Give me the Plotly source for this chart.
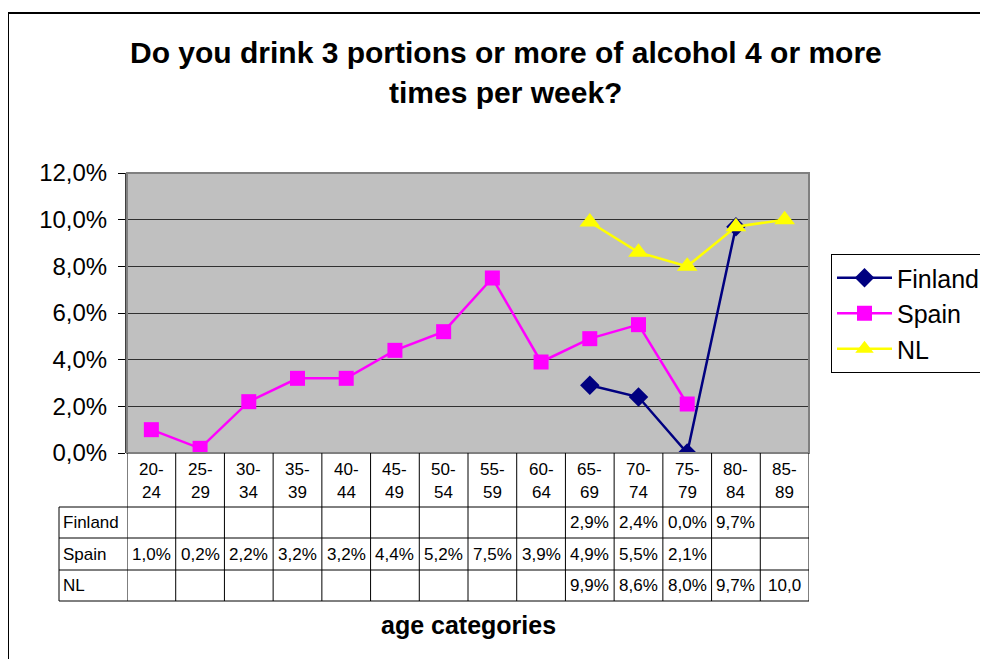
import plotly.graph_objects as go

# age categories and the three series (percent)
categories = ["20-24", "25-29", "30-34", "35-39", "40-44", "45-49", "50-54",
              "55-59", "60-64", "65-69", "70-74", "75-79", "80-84", "85-89"]
finland = [None, None, None, None, None, None, None, None, None, 2.9, 2.4, 0.0, 9.7, None]
spain = [1.0, 0.2, 2.2, 3.2, 3.2, 4.4, 5.2, 7.5, 3.9, 4.9, 5.5, 2.1, None, None]
nl = [None, None, None, None, None, None, None, None, None, 9.9, 8.6, 8.0, 9.7, 10.0]
y_ticks = [0, 2, 4, 6, 8, 10, 12]

FONT = "Arial, Liberation Sans, sans-serif"
OFF = 8                      # page body margin
W, H = 988 - OFF, 659 - OFF
L, R, T, B = 127, 809, 173, 453   # plot area in window pixels


def py(p):
    # window pixel row -> paper y
    return (B - p) / (B - T)


def px(p):
    # window pixel column -> paper x
    return (p - L) / (R - L)


def pct(v):
    return ("%.1f%%" % v).replace(".", ",")


def cell(v):
    if v is None:
        return ""
    s = pct(v)
    return s[:4] if len(s) > 4 else s  # cell too narrow, excel clips it


series = [
    ("Finland", finland, "#000080", "diamond", 15),
    ("Spain", spain, "#FF00FF", "square", 15),
    ("NL", nl, "#FFFF00", "triangle-up", 18),
]

fig = go.Figure()
x_idx = list(range(len(categories)))
for name, vals, col, sym, sz in series:
    fig.add_trace(go.Scatter(
        x=x_idx, y=vals, name=name, mode="lines+markers",
        line=dict(color=col, width=2.5),
        marker=dict(symbol=sym, size=sz, color=col),
        connectgaps=False,
    ))

shapes = []
annotations = []

# outer chart frame
shapes.append(dict(type="rect", xref="paper", yref="paper",
                   x0=px(8), x1=2, y0=py(13), y1=-2,
                   line=dict(color="black", width=2), layer="below"))
# plot area border
shapes.append(dict(type="rect", xref="paper", yref="paper", x0=0, x1=1, y0=0, y1=1,
                   line=dict(color="#808080", width=2), layer="above"))

# data table
row_edges = [453, 507, 538, 570, 601]
for i in range(len(categories) + 1):
    shapes.append(dict(type="line", xref="x", yref="paper", x0=i - 0.5, x1=i - 0.5,
                       y0=py(row_edges[0]), y1=py(row_edges[-1]),
                       line=dict(color="black", width=1)))
for e in row_edges[1:]:
    shapes.append(dict(type="line", xref="paper", yref="paper", x0=px(59), x1=1,
                       y0=py(e), y1=py(e), line=dict(color="black", width=1)))
shapes.append(dict(type="line", xref="paper", yref="paper", x0=px(59), x1=px(59),
                   y0=py(row_edges[1]), y1=py(row_edges[-1]),
                   line=dict(color="black", width=1)))

for i, c in enumerate(categories):
    a, b = c.split("-")
    for txt, yy in ((a + "-", 469), (b, 492)):
        annotations.append(dict(x=i, y=py(yy), xref="x", yref="paper",
                                text=txt, showarrow=False, yanchor="middle",
                                font=dict(size=17, color="black", family=FONT)))

for r, (name, vals, col, sym, sz) in enumerate(series):
    yc = py((row_edges[r + 1] + row_edges[r + 2]) / 2)
    annotations.append(dict(x=px(61), y=yc, xref="paper", yref="paper", text=name,
                            xanchor="left", yanchor="middle", showarrow=False,
                            font=dict(size=17, color="black", family=FONT)))
    for i, v in enumerate(vals):
        if v is None:
            continue
        annotations.append(dict(x=i, y=yc, xref="x", yref="paper", text=cell(v),
                                showarrow=False, yanchor="middle",
                                font=dict(size=17, color="black", family=FONT)))

# title (two lines, excel line spacing) and axis title
title_lines = ["Do you drink 3 portions or more of alcohol 4 or more", "times per week?"]
for txt, yy in zip(title_lines, (52, 93)):
    annotations.append(dict(x=px(506), y=py(yy), xref="paper", yref="paper",
                            text="<b>" + txt + "</b>", showarrow=False, yanchor="middle",
                            font=dict(size=30, color="black", family=FONT)))
annotations.append(dict(x=0.5, y=py(625), xref="paper", yref="paper",
                        text="<b>age categories</b>", showarrow=False, yanchor="middle",
                        font=dict(size=25, color="black", family=FONT)))

fig.update_layout(
    width=W, height=H,
    margin=dict(l=L - OFF, r=W - (R - OFF), t=T - OFF, b=H - (B - OFF), autoexpand=False),
    paper_bgcolor="white", plot_bgcolor="#C0C0C0",
    font=dict(family=FONT, color="black"),
    showlegend=True,
    legend=dict(x=px(831), y=py(254), xanchor="left", yanchor="top",
                bordercolor="black", borderwidth=1, bgcolor="white",
                font=dict(size=25, family=FONT, color="black"),
                itemwidth=55, entrywidth=175, tracegroupgap=0),
    shapes=shapes,
    annotations=annotations,
)
fig.update_xaxes(range=[-0.5, len(categories) - 0.5], showticklabels=False,
                 showgrid=False, zeroline=False, ticks="")
fig.update_yaxes(range=[0, 12], tickvals=y_ticks, ticktext=[pct(v) for v in y_ticks],
                 showgrid=True, gridcolor="#303030", gridwidth=1, zeroline=False,
                 ticks="outside", ticklen=7, tickcolor="black", ticklabelstandoff=6,
                 showline=True, linecolor="#404040", linewidth=2,
                 tickfont=dict(size=24, family=FONT, color="black"))

fig.write_html("out.html")
